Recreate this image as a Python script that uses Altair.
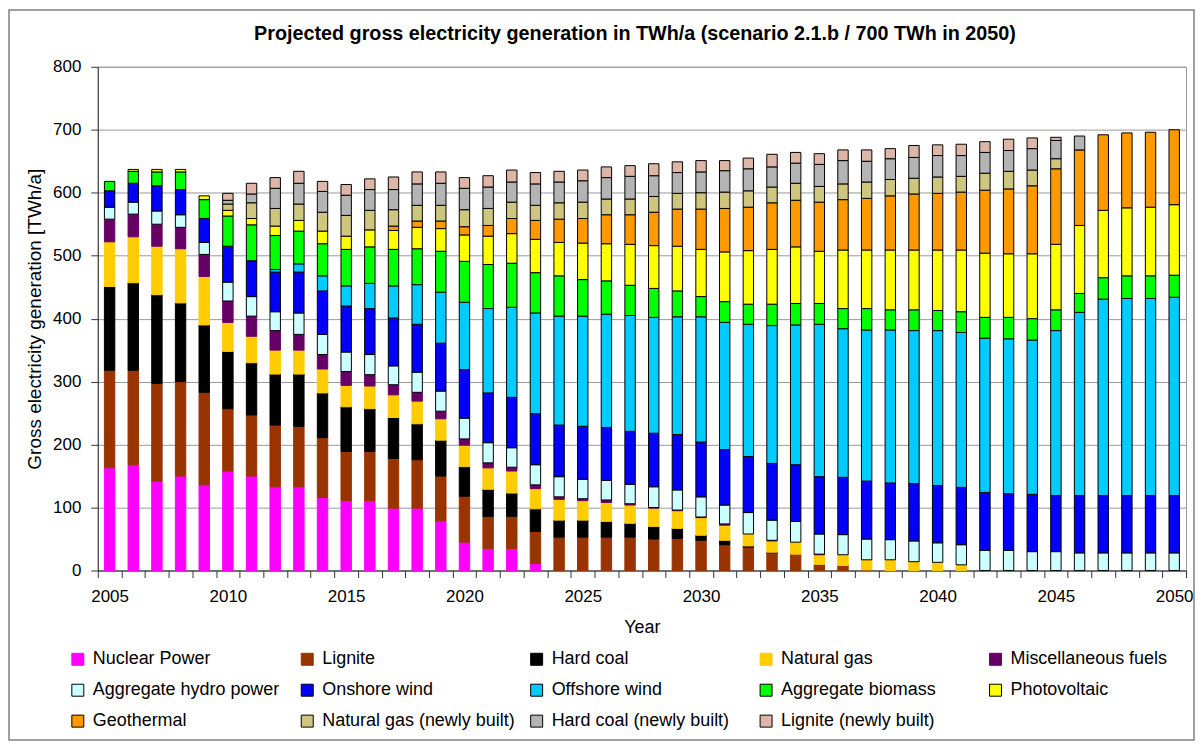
import altair as alt
import pandas as pd

years = list(range(2005, 2051))

series = ["Nuclear Power", "Lignite", "Hard coal", "Natural gas", "Miscellaneous fuels",
          "Aggregate hydro power", "Onshore wind", "Offshore wind", "Aggregate biomass", "Photovoltaic",
          "Geothermal", "Natural gas (newly built)", "Hard coal (newly built)", "Lignite (newly built)"]

fill_colors = ["#FF00FF", "#993300", "#000000", "#FFCC00", "#660066",
               "#CCFFFF", "#0000FF", "#00CCFF", "#00FF00", "#FFFF00",
               "#FF9900", "#CEC67E", "#B4B4B4", "#DDB6A8"]

stroke_colors = ["#FF00FF", "#993300", "#000000", "#FFCC00", "#660066",
                 "#000000", "#000000", "#000000", "#000000", "#000000",
                 "#000000", "#000000", "#000000", "#000000"]

nuclear = [163, 168, 142, 150, 136, 158, 150, 133, 133, 116, 111, 111, 99, 99, 79, 45, 35, 35, 11] + [0] * 27
lignite = [155, 150, 155, 150, 147, 99, 97, 98, 96, 95, 78, 78, 79, 77, 71, 73, 51, 51, 51,
           53, 53, 53, 53, 50, 51, 48, 41, 37, 28, 26, 8, 8, 1] + [0] * 13
hard_coal = [133, 139, 141, 125, 107, 91, 83, 81, 83, 71, 71, 68, 65, 57, 57, 47, 43, 37, 36,
             27, 27, 25, 22, 20, 16, 8, 7, 2, 1, 0, 1] + [0] * 15
natural_gas = [71, 73, 77, 86, 77, 46, 42, 38, 38, 38, 34, 36, 36, 36, 34, 34, 34, 35, 32,
               33, 31, 30, 29, 29, 28, 28, 24, 19, 18, 19, 16, 17, 16, 17, 14, 13, 9] + [0] * 9
misc_fuels = [36, 36, 35, 34, 35, 34, 32, 31, 25, 23, 22, 18, 16, 14, 12, 10, 8, 6, 6,
              4, 3, 4, 2, 1, 1, 1, 2, 0, 1, 0, 1] + [0] * 15
hydro = [19, 19, 21, 20, 19, 30, 31, 30, 34, 32, 31, 32, 30, 32, 32, 33, 32, 31, 32,
         32, 31, 31, 31, 33, 32, 32, 30, 34, 32, 33, 32, 32, 33, 32, 33, 31, 32, 32, 32,
         30, 30, 28, 28, 28, 28, 28]
onshore = [26, 30, 40, 40, 38, 57, 57, 63, 65, 69, 73, 73, 76, 76, 76, 77, 79, 80, 81,
           82, 84, 84, 84, 85, 88, 87, 88, 89, 90, 90, 91, 91, 92, 90, 91, 91, 91, 92, 90,
           91, 89, 91, 91, 91, 91, 91]
offshore = [0, 0, 0, 0, 0, 0, 0, 4, 13, 24, 32, 40, 51, 63, 81, 107, 134, 143, 160,
            173, 175, 180, 184, 184, 187, 199, 202, 210, 219, 222, 242, 236, 240, 243, 243, 246, 246, 245, 246,
            245, 262, 291, 312, 313, 313, 315]
biomass = [15, 19, 22, 28, 30, 48, 57, 54, 52, 51, 58, 58, 58, 57, 65, 65, 70, 70, 64,
           64, 58, 53, 48, 46, 41, 32, 33, 32, 34, 34, 33, 32, 34, 32, 33, 32, 33, 33, 34,
           34, 33, 30, 34, 36, 36, 35]
photovoltaic = [0, 3, 4, 4, 6, 9, 10, 15, 17, 20, 21, 27, 30, 34, 36, 42, 45, 47, 53,
                53, 58, 59, 65, 68, 71, 75, 79, 85, 87, 90, 83, 93, 93, 95, 95, 96, 98, 102, 101,
                103, 104, 108, 107, 108, 109, 112]
geothermal = [0] * 12 + [7, 10, 12, 13, 17, 24, 30, 37, 39, 46, 47, 53, 59, 64, 69, 69, 74, 74, 78,
                         80, 82, 86, 89, 90, 92, 100, 103, 108, 120, 120, 120, 119, 119, 119]
gas_new = [0] * 5 + [10, 25, 28, 26, 30, 33, 31, 26, 25, 25, 27, 27, 26, 24, 26, 26, 25, 25, 25, 25,
                     26, 26, 26, 25, 27, 25, 25, 26, 26, 25, 26, 25, 27, 28, 25, 16] + [0] * 5
hard_coal_new = [0] * 5 + [6, 14, 32, 33, 33, 32, 33, 32, 34, 35, 34, 34, 32, 34, 33, 34, 34, 36, 33, 33,
                           33, 34, 35, 32, 32, 35, 37, 33, 33, 33, 34, 33, 33, 33, 34, 29, 22] + [0] * 4
lignite_new = [0] * 5 + [11, 17, 17, 19, 16, 17, 17, 20, 19, 18, 17, 18, 19, 18, 17, 17, 17, 17, 19, 17,
                         18, 16, 17, 20, 17, 17, 17, 18, 16, 19, 17, 18, 17, 18, 17, 5] + [0] * 5

values = [nuclear, lignite, hard_coal, natural_gas, misc_fuels, hydro, onshore, offshore,
          biomass, photovoltaic, geothermal, gas_new, hard_coal_new, lignite_new]

rows = []
for si, (name, vals) in enumerate(zip(series, values)):
    for yr, v in zip(years, vals):
        if v > 0:
            rows.append({"year": yr, "series": name, "value": v, "order": si})
df = pd.DataFrame(rows)

FONT = "Liberation Sans"

legend = alt.Legend(
    title=None, orient="none", direction="horizontal", legendX=-29, legendY=585, columns=5,
    symbolType="square", symbolSize=144, symbolStrokeWidth=1,
    labelFontSize=18, labelFont=FONT, labelColor="#000000", labelLimit=400,
    labelOffset=6, columnPadding=12, rowPadding=13, gridAlign="all", padding=0,
)

bars = alt.Chart(df).mark_bar(width=alt.RelativeBandSize(0.44), strokeWidth=1).encode(
    x=alt.X("year:O", title="Year",
            scale=alt.Scale(paddingInner=0, paddingOuter=0),
            axis=alt.Axis(labelExpr="datum.value % 5 == 0 ? datum.label : ''",
                          labelAngle=0, labelOverlap=False, tickBand="extent",
                          tickSize=7, labelPadding=11, titlePadding=14,
                          labelFontSize=17, titleFontSize=18, titleFontWeight="normal",
                          labelFont=FONT, titleFont=FONT, labelColor="#000", titleColor="#000",
                          domainColor="#333", tickColor="#333", grid=False)),
    y=alt.Y("value:Q", stack="zero", title="Gross electricity generation [TWh/a]",
            scale=alt.Scale(domain=[0, 800], nice=False),
            axis=alt.Axis(values=list(range(0, 801, 100)), tickSize=7, labelPadding=10,
                          titlePadding=8, labelFontSize=17, titleFontSize=19,
                          titleFontWeight="normal", labelFont=FONT, titleFont=FONT,
                          labelColor="#000", titleColor="#000",
                          domainColor="#333", tickColor="#333",
                          grid=True, gridColor="#9A9A9A", gridWidth=1)),
    color=alt.Color("series:N", sort=series,
                    scale=alt.Scale(domain=series, range=fill_colors), legend=legend),
    stroke=alt.Stroke("series:N", sort=series,
                      scale=alt.Scale(domain=series, range=stroke_colors), legend=legend),
    order=alt.Order("order:Q", sort="ascending"),
)

frame = alt.Chart(pd.DataFrame({"f": [0]})).mark_rect(
    fill="transparent", stroke="#7F7F7F", strokeWidth=1.5
).encode(
    x=alt.value(-89), x2=alt.value(1099), y=alt.value(-57), y2=alt.value(675)
)

chart = alt.layer(frame, bars).properties(
    width=1091, height=505,
    padding=0,
    title=alt.TitleParams(
        "Projected gross electricity generation in TWh/a (scenario 2.1.b / 700 TWh in 2050)",
        fontSize=19.8, fontWeight="bold", font=FONT, color="#000", anchor="middle",
        frame="group", offset=-35, dx=-7),
).configure_view(stroke="#9A9A9A", strokeWidth=1)

chart.save("out.html", embed_options={"renderer": "svg", "actions": False})
